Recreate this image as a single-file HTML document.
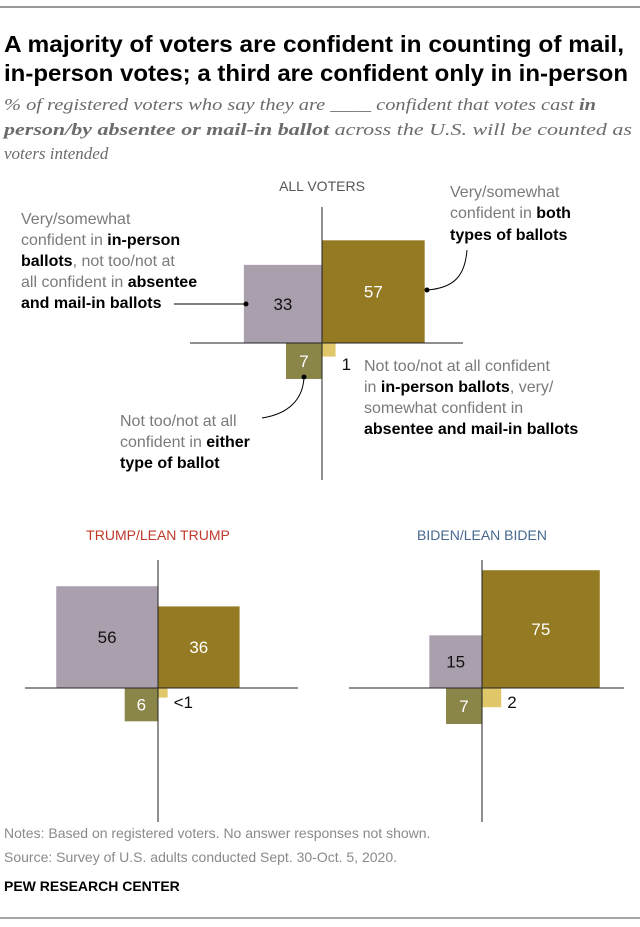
<!DOCTYPE html>
<html><head><meta charset="utf-8">
<style>
html,body{margin:0;padding:0;background:#fff;}
svg{display:block;}
text{font-family:"Liberation Sans Narrow","Liberation Sans",sans-serif;}
.ser{font-family:"Liberation Serif",serif;font-style:italic;fill:#6b6b6b;font-size:17px;}
.ann{font-size:16px;fill:#7a7a7a;}
.ann tspan.b{font-weight:bold;fill:#000;}
</style></head>
<body>
<svg id="chart" width="640" height="927" viewBox="0 0 640 927" xmlns="http://www.w3.org/2000/svg">
<line x1="0" y1="7" x2="640" y2="7" stroke="#333" stroke-width="1"/>
<g font-weight="bold" font-size="23" fill="#000">
<text x="4" y="52" textLength="620" lengthAdjust="spacingAndGlyphs">A majority of voters are confident in counting of mail,</text>
<text x="4" y="81" textLength="624" lengthAdjust="spacingAndGlyphs">in-person votes; a third are confident only in in-person</text>
</g>
<g>
<text class="ser" x="4" y="110" textLength="592" lengthAdjust="spacingAndGlyphs">% of registered voters who say they are ____ confident that votes cast <tspan font-weight="bold">in</tspan></text>
<text class="ser" x="4" y="135" textLength="628" lengthAdjust="spacingAndGlyphs"><tspan font-weight="bold">person/by absentee or mail-in ballot</tspan> across the U.S. will be counted as</text>
<text class="ser" x="4" y="159">voters intended</text>
</g>
<g id="panels"></g>
<g>
<text class="ann" x="21" y="224">Very/somewhat</text>
<text class="ann" x="21" y="245">confident in <tspan class="b">in-person</tspan></text>
<text class="ann" x="21" y="266"><tspan class="b">ballots</tspan>, not too/not at</text>
<text class="ann" x="21" y="287">all confident in <tspan class="b">absentee</tspan></text>
<text class="ann" x="21" y="308"><tspan class="b">and mail-in ballots</tspan></text>
<line x1="174" y1="304" x2="246" y2="304" stroke="#000" stroke-width="1"/>
<circle cx="246" cy="304" r="2.5" fill="#000"/>
<text class="ann" x="450" y="197">Very/somewhat</text>
<text class="ann" x="450" y="218">confident in <tspan class="b">both</tspan></text>
<text class="ann" x="450" y="240"><tspan class="b">types of ballots</tspan></text>
<path d="M467,250 C465,275 455,288 427,290" fill="none" stroke="#000" stroke-width="1"/>
<circle cx="427" cy="290" r="2.5" fill="#000"/>
<text class="ann" x="364" y="371">Not too/not at all confident</text>
<text class="ann" x="364" y="392">in <tspan class="b">in-person ballots</tspan>, very/</text>
<text class="ann" x="364" y="413">somewhat confident in</text>
<text class="ann" x="364" y="434"><tspan class="b">absentee and mail-in ballots</tspan></text>
<text class="ann" x="120" y="426">Not too/not at all</text>
<text class="ann" x="120" y="447">confident in <tspan class="b">either</tspan></text>
<text class="ann" x="120" y="468"><tspan class="b">type of ballot</tspan></text>
<path d="M262,418 C288,414 303,400 304,377" fill="none" stroke="#000" stroke-width="1"/>
<circle cx="304" cy="377" r="2.5" fill="#000"/>
</g>
<g font-size="14" fill="#8a8a8a">
<text x="4" y="838">Notes: Based on registered voters. No answer responses not shown.</text>
<text x="4" y="862">Source: Survey of U.S. adults conducted Sept. 30-Oct. 5, 2020.</text>
</g>
<text x="4" y="891" font-size="14" font-weight="bold" fill="#000">PEW RESEARCH CENTER</text>
<line x1="0" y1="918" x2="640" y2="918" stroke="#888" stroke-width="1.5"/>
</svg>
<script>
const panelNames = ["ALL VOTERS", "TRUMP/LEAN TRUMP", "BIDEN/LEAN BIDEN"];
const bothValues = [57, 36, 75];
const inPersonOnlyValues = [33, 56, 15];
const neitherValues = [7, 6, 7];
const mailOnlyValues = [1, 0.5, 2];
const mailOnlyLabels = ["1", "<1", "2"];
const titleColors = ["#555", "#c0392b", "#46688f"];
const layout = [
  {cx:322, cy:343, top:207, bottom:480, left:190, right:463, ty:191},
  {cx:158, cy:688, top:560, bottom:822, left:25, right:298, ty:540},
  {cx:482, cy:688, top:560, bottom:822, left:349, right:624, ty:540}
];
const K = 13.6;
const side = v => Math.sqrt(v) * K;
const NS = "http://www.w3.org/2000/svg";
const root = document.getElementById("panels");
function mk(tag, attrs, parent){
  const e = document.createElementNS(NS, tag);
  for (const k in attrs) e.setAttribute(k, attrs[k]);
  parent.appendChild(e);
  return e;
}
panelNames.forEach((name, i) => {
  const L = layout[i];
  const g = mk("g", {}, root);
  
  
  const t = mk("text", {x:L.cx, y:L.ty, "text-anchor":"middle", "font-size":"14", fill:titleColors[i]}, g);
  t.textContent = name;
  
  
  const sb = side(bothValues[i]);
  const r1 = mk("rect", {x:L.cx, y:L.cy - sb, width:sb, height:sb, fill:"#947a22"}, g);
  
  
  const sp = side(inPersonOnlyValues[i]);
  const r2 = mk("rect", {x:L.cx - sp, y:L.cy - sp, width:sp, height:sp, fill:"#aa9fad"}, g);
  
  
  const sn = side(neitherValues[i]);
  const r3 = mk("rect", {x:L.cx - sn, y:L.cy, width:sn, height:sn, fill:"#8a8548"}, g);
  
  
  const sm = side(mailOnlyValues[i]);
  const r4 = mk("rect", {x:L.cx, y:L.cy, width:sm, height:sm, fill:"#e0c76a"}, g);
  
  
  const a1 = mk("line", {x1:L.cx, y1:L.top, x2:L.cx, y2:L.bottom, stroke:"#222", "stroke-width":1}, g);
  
  
  const a2 = mk("line", {x1:L.left, y1:L.cy, x2:L.right, y2:L.cy, stroke:"#222", "stroke-width":1}, g);
  
  
  const labs = [
    [bothValues[i], L.cx + sb/2, L.cy - sb/2 + 6, "#fff"],
    [inPersonOnlyValues[i], L.cx - sp/2, L.cy - sp/2 + 6, "#111"],
    [neitherValues[i], L.cx - sn/2, L.cy + sn/2 + 6, "#fff"]
  ];
  labs.forEach(([v, x, y, c]) => {
    const tl = mk("text", {x:x, y:y, "text-anchor":"middle", "font-size":"17", fill:c}, g);
    tl.textContent = v;
    
    
  });
  const ml = mk("text", {x:L.cx + Math.max(sm, 6) + 6, y:L.cy + (i===0?27:20), "font-size":"17", fill:"#111"}, g);
  ml.textContent = mailOnlyLabels[i];
  
  
});
</script>
</body></html>
